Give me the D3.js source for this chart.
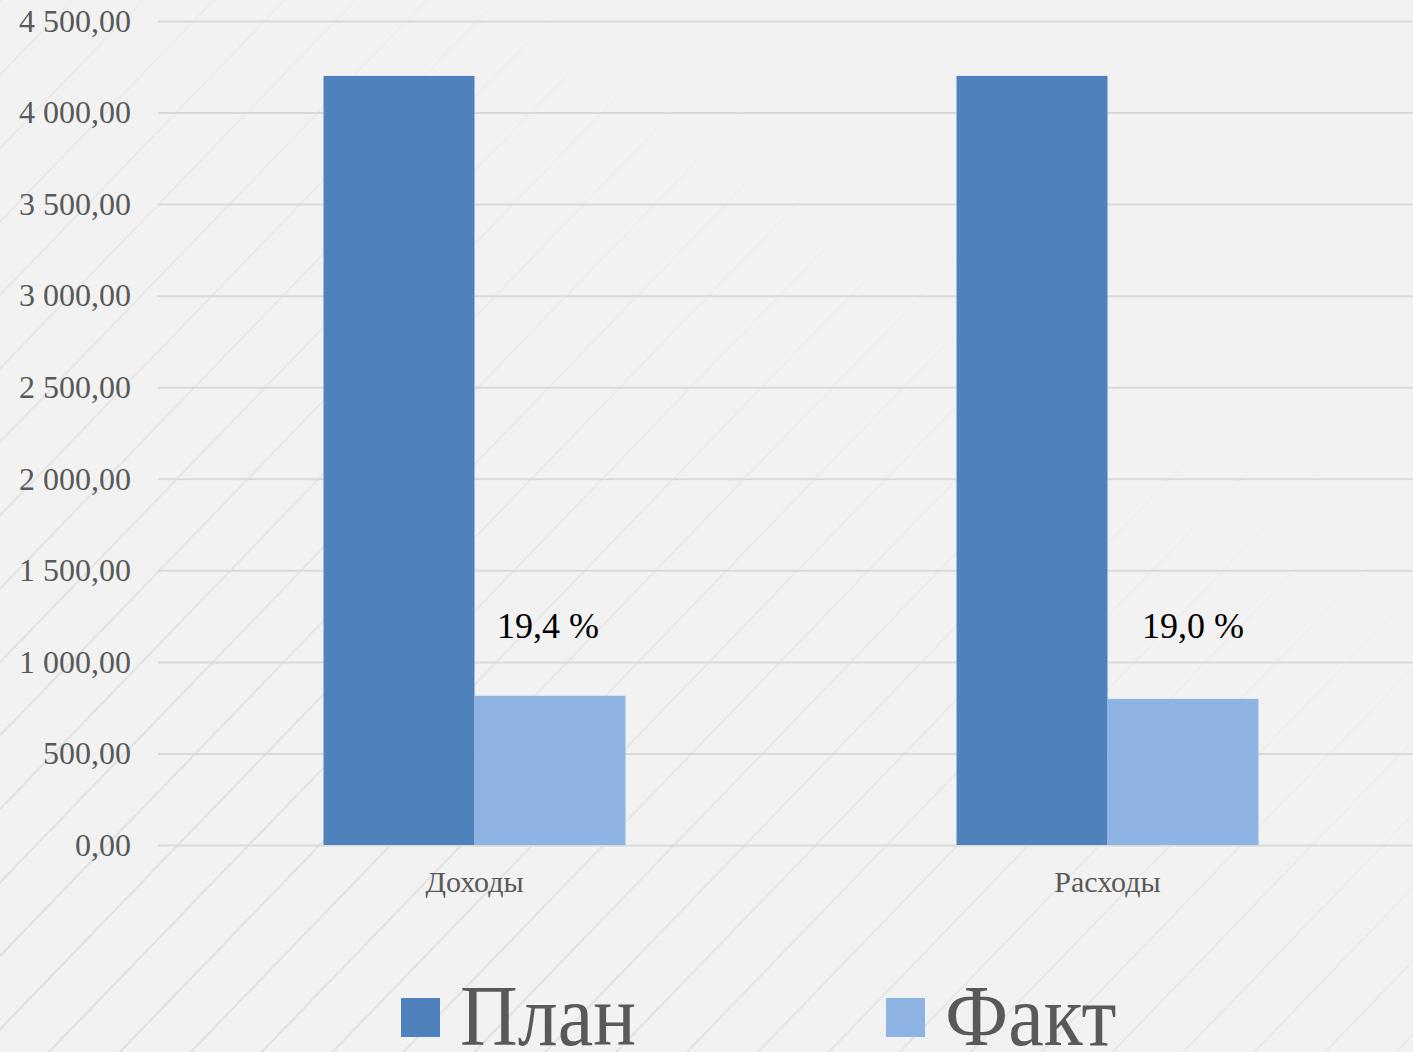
<!DOCTYPE html>
<html>
<head>
<meta charset="utf-8">
<script src="https://cdn.jsdelivr.net/npm/d3@7"></script>
<style>
  html, body { margin: 0; padding: 0; background: #f2f2f2; overflow: hidden; }
</style>
</head>
<body>
<svg id="chart" width="1413" height="1052"></svg>
<script>
var categories = ["Доходы", "Расходы"];
var seriesNames = ["План", "Факт"];
var planValues = [4200, 4200];
var factValues = [815, 798];
var pctLabels = ["19,4 %", "19,0 %"];
var yTicks = [0, 500, 1000, 1500, 2000, 2500, 3000, 3500, 4000, 4500];

var COLORS = ["#4f81bd", "#8eb4e3"];
var SERIF = "'Liberation Serif', 'Times New Roman', serif";
var LABEL_COL = "#595959";

var svg = d3.select("#chart");
var width = +svg.attr("width");
var height = +svg.attr("height");

// background + faint diagonal stripes fading towards the top right
var defs = svg.append("defs");
var pat = defs.append("pattern")
    .attr("id", "stripes")
    .attr("patternUnits", "userSpaceOnUse")
    .attr("width", 51).attr("height", 51)
    .attr("patternTransform", "rotate(44)");
pat.append("line")
    .attr("x1", 1).attr("y1", 0).attr("x2", 1).attr("y2", 51)
    .attr("stroke", "#dedede").attr("stroke-width", 2);

var grad = defs.append("linearGradient")
    .attr("id", "fade")
    .attr("x1", "0").attr("y1", "1").attr("x2", "0.85").attr("y2", "0.1");
grad.append("stop").attr("offset", "0").attr("stop-color", "#fff").attr("stop-opacity", 1);
grad.append("stop").attr("offset", "0.3").attr("stop-color", "#fff").attr("stop-opacity", 0.75);
grad.append("stop").attr("offset", "0.6").attr("stop-color", "#fff").attr("stop-opacity", 0.35);
grad.append("stop").attr("offset", "0.85").attr("stop-color", "#fff").attr("stop-opacity", 0);
defs.append("mask").attr("id", "fadeMask")
    .append("rect").attr("width", width).attr("height", height).attr("fill", "url(#fade)");

svg.append("rect").attr("width", width).attr("height", height).attr("fill", "#f2f2f2");
svg.append("rect").attr("width", width).attr("height", height)
    .attr("fill", "url(#stripes)").attr("mask", "url(#fadeMask)");

// scales
var scaleY = d3.scaleLinear().domain([0, 4500]).range([845, 21]);
var scaleX = d3.scaleBand().domain(categories).range([158, 1424])
    .paddingInner(0.523).paddingOuter(0.2615);
var scaleS = d3.scaleBand().domain(seriesNames).range([0, scaleX.bandwidth()]);

var fmt = function(v) {
    var s = d3.format(",.2f")(v);
    return s.replace(/,/g, " ").replace(".", ",");
};

// y axis (gridlines + labels)
var yAxis = d3.axisLeft(scaleY)
    .tickValues(yTicks)
    .tickSize(-(1424 - 158))
    .tickPadding(27)
    .tickFormat(fmt);

var gy = svg.append("g")
    .attr("transform", "translate(158,0)")
    .call(yAxis);
gy.select(".domain").remove();
gy.selectAll(".tick line").attr("stroke", "#d9d9d9").attr("stroke-width", 2);
gy.selectAll(".tick text")
    .style("font-family", SERIF)
    .style("font-size", "32px")
    .style("fill", LABEL_COL);

// x axis labels
var xAxis = d3.axisBottom(scaleX).tickSize(0).tickPadding(26);
var gx = svg.append("g")
    .attr("transform", "translate(0,845)")
    .call(xAxis);
gx.select(".domain").remove();
gx.selectAll(".tick text")
    .style("font-family", SERIF)
    .style("font-size", "30px")
    .style("fill", LABEL_COL);

// bars
var rows = categories.map(function(c, i) {
    return { cat: c, vals: [planValues[i], factValues[i]], pct: pctLabels[i] };
});

var groups = svg.append("g").selectAll(".grp")
    .data(rows)
    .enter()
    .append("g")
    .attr("class", "grp")
    .attr("transform", function(d) { return "translate(" + scaleX(d.cat) + ",0)"; });

groups.selectAll("rect")
    .data(function(d) { return d.vals.map(function(v, j) { return { s: seriesNames[j], v: v, j: j }; }); })
    .enter()
    .append("rect")
    .attr("x", function(d) { return scaleS(d.s); })
    .attr("width", scaleS.bandwidth())
    .attr("y", function(d) { return scaleY(d.v); })
    .attr("height", function(d) { return scaleY(0) - scaleY(d.v); })
    .attr("fill", function(d) { return COLORS[d.j]; });

// percentage labels above the fact bars (placed by hand in the original)
groups.append("text")
    .attr("x", function(d, i) { return scaleS("Факт") + scaleS.bandwidth() / 2 + (i == 0 ? -2 : 10); })
    .attr("y", 638)
    .attr("text-anchor", "middle")
    .text(function(d) { return d.pct; })
    .style("font-family", SERIF)
    .style("font-size", "36px")
    .style("fill", "#000");

// legend
var legendX = [401, 886];
var legend = svg.append("g").selectAll(".leg")
    .data(seriesNames)
    .enter()
    .append("g")
    .attr("transform", function(d, i) { return "translate(" + legendX[i] + ",998)"; });

legend.append("rect")
    .attr("width", 39).attr("height", 39)
    .attr("fill", function(d, i) { return COLORS[i]; });

legend.append("text")
    .attr("transform", "translate(59,47) scale(0.93,1)")
    .text(function(d) { return d; })
    .style("font-family", SERIF)
    .style("font-size", "86px")
    .style("fill", LABEL_COL);
</script>
</body>
</html>
